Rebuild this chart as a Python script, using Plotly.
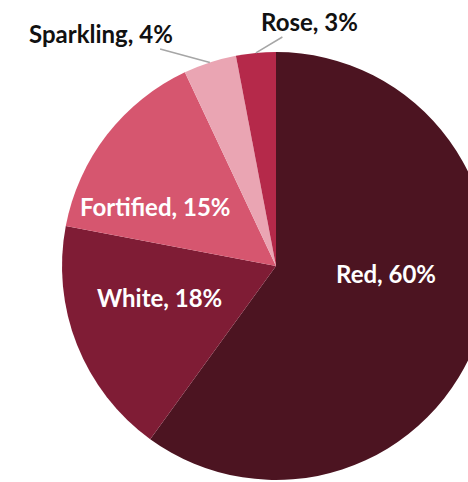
import math
import plotly.graph_objects as go

# Wine sales share by type
categories = ["Red", "White", "Fortified", "Sparkling", "Rose"]
shares = [60, 18, 15, 4, 3]
colors = ["#4c1421", "#7f1c35", "#d6566f", "#eaa5b3", "#b5294a"]

# Label centres in pixels and whether they sit outside the pie with a leader line
label_px = [(386, 273), (159, 297), (155, 206), (101, 33), (309, 21)]
label_outside = [False, False, False, True, True]

W, H = 500, 482
ML, MR, MT, MB = 62, 10, 52, 2
PW, PH = W - ML - MR, H - MT - MB

fig = go.Figure(
    go.Pie(
        labels=categories,
        values=shares,
        sort=False,
        direction="clockwise",
        rotation=0,
        marker=dict(colors=colors, line=dict(width=0)),
        textinfo="none",
        hoverinfo="label+percent",
        showlegend=False,
        domain=dict(x=[0, 1], y=[0, 1]),
    )
)

total = sum(shares)
cum = 0
font_family = "Lato, 'Open Sans', sans-serif"
font_size = 24
for name, v, (px, py), outside in zip(categories, shares, label_px, label_outside):
    text = f"<b>{name}, {v}%</b>"
    if outside:
        # leader line runs from the label to the middle of the slice's outer edge
        theta = 2 * math.pi * (cum + v / 2) / total
        xe = 0.5 + 0.5 * math.sin(theta)
        ye = 0.5 + 0.5 * math.cos(theta)
        tip_x = ML + xe * PW
        tip_y = MT + (1 - ye) * PH
        fig.add_annotation(
            x=xe, y=ye, xref="paper", yref="paper",
            ax=px - tip_x, ay=py - tip_y,
            text=text, showarrow=True, arrowhead=0, arrowwidth=1.5,
            arrowcolor="#a6a6a6", standoff=0,
            font=dict(family=font_family, size=font_size, color="#111111"),
        )
    else:
        fig.add_annotation(
            x=(px - ML) / PW, y=1 - (py - MT) / PH, xref="paper", yref="paper",
            xanchor="center", yanchor="middle",
            text=text, showarrow=False,
            font=dict(family=font_family, size=font_size, color="#ffffff"),
        )
    cum += v

fig.update_layout(
    width=W,
    height=H,
    margin=dict(l=ML, r=MR, t=MT, b=MB),
    paper_bgcolor="white",
    plot_bgcolor="white",
)

fig.write_html(
    "out.html",
    post_script="document.body.style.margin='0';document.body.style.overflow='hidden';"
    "document.documentElement.style.overflow='hidden';",
)
